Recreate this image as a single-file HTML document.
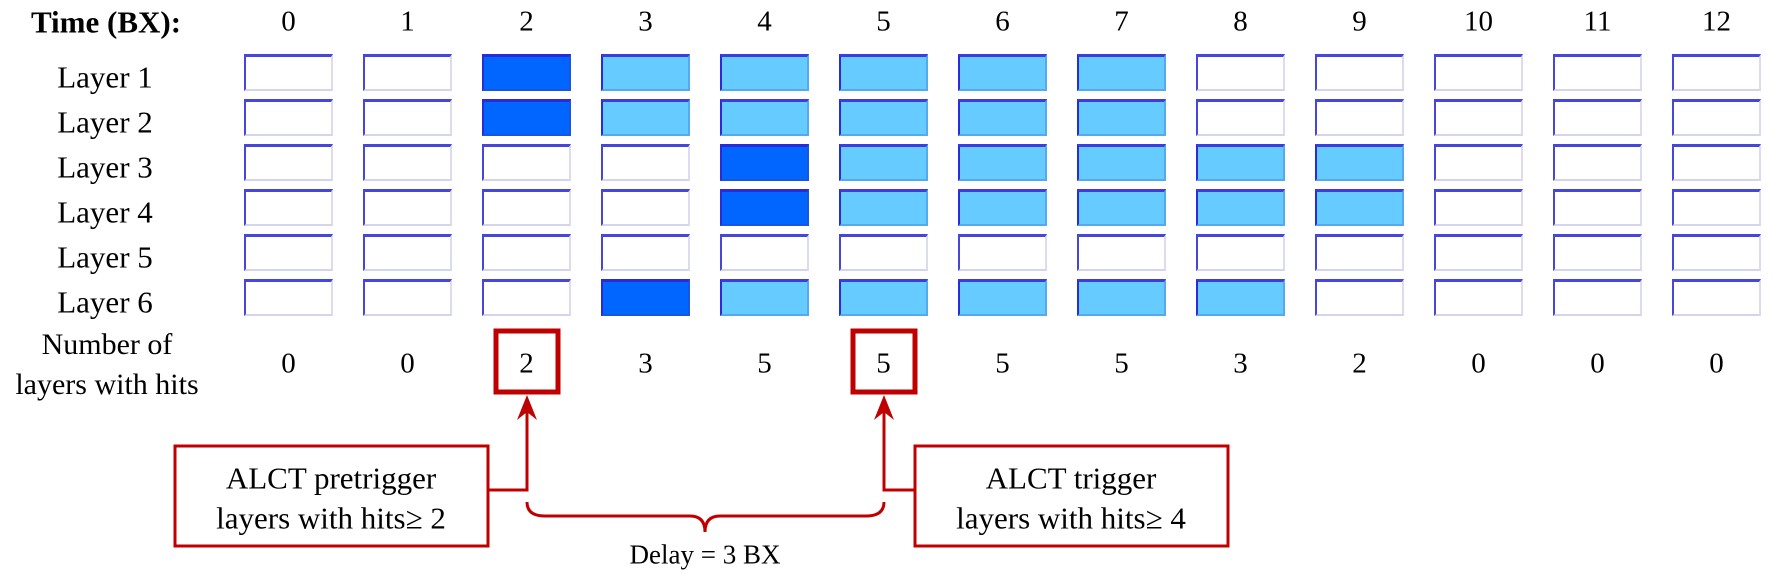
<!DOCTYPE html>
<html><head><meta charset="utf-8"><style>
body{margin:0;width:1773px;height:577px;background:#fff;position:relative;overflow:hidden;font-family:"Liberation Serif","Times New Roman","DejaVu Serif",serif;color:#000}
.t{position:absolute;white-space:nowrap;transform:translate(-50%,-50%);line-height:1;font-family:"Liberation Serif","Times New Roman","DejaVu Serif",serif}
.c{position:absolute;width:89px;height:37px;box-sizing:border-box;background:#fff;border-top:3px solid #4646dc;border-left:2px solid #4646dc;border-right:2px solid #dcdcf0;border-bottom:2px solid #d4d4ec}
.c.d{background:#0066ff;border-top-color:#2a2ad8;border-left-color:#2a2ad8;border-right-color:#1a55dd;border-bottom-color:#1a55dd}
.c.l{background:#66ccff;border-top-color:#3c3ce0;border-left-color:#2a2ae0;border-right-color:#55aaee;border-bottom-color:#55aaee}
</style></head><body>
<div class="t" style="left:106px;top:22px;font-size:31px;font-weight:bold">Time (BX):</div>
<div id="g"></div>
<div class="t" style="left:107px;top:345px;font-size:30px">Number of</div>
<div class="t" style="left:107px;top:385px;font-size:30px">layers with hits</div>
<svg style="position:absolute;left:0;top:0" width="1773" height="577">
<g fill="none" stroke="#c00000">
<rect x="496" y="331" width="62" height="61" stroke-width="5"/>
<rect x="853" y="331" width="62" height="61" stroke-width="5"/>
<rect x="175" y="446" width="313" height="100" stroke-width="3"/>
<rect x="915" y="446" width="313" height="100" stroke-width="3"/>
<polyline points="488,490 527,490 527,400" stroke-width="3"/>
<polyline points="915,490 884,490 884,400" stroke-width="3"/>
<path d="M527,502 Q527,516 545,516 L690,516 Q705,516 705,532 Q705,516 720,516 L866,516 Q884,516 884,502" stroke-width="3"/>
</g>
<polygon points="527,395 517,420 527,412 537,420" fill="#c00000"/>
<polygon points="884,395 874,420 884,412 894,420" fill="#c00000"/>
</svg>
<div class="t" style="left:331px;top:478px;font-size:31px">ALCT pretrigger</div>
<div class="t" style="left:331px;top:518px;font-size:31px">layers with hits≥ 2</div>
<div class="t" style="left:1071px;top:478px;font-size:31px">ALCT trigger</div>
<div class="t" style="left:1071px;top:518px;font-size:31px">layers with hits≥ 4</div>
<div class="t" style="left:705px;top:555px;font-size:27px">Delay = 3 BX</div>
<script>
var g=document.getElementById('g'),h='';
var pat=[[2,3,7],[2,3,7],[4,5,9],[4,5,9],null,[3,4,8]];
var cnt=[0,0,2,3,5,5,5,5,3,2,0,0,0];
for(var i=0;i<13;i++){var cx=244+119*i+44.5;
h+='<div class="t" style="left:'+cx+'px;top:22px;font-size:29px">'+i+'</div>';
h+='<div class="t" style="left:'+cx+'px;top:364px;font-size:29px">'+cnt[i]+'</div>';}
for(var r=0;r<6;r++){var y=54+45*r;
h+='<div class="t" style="left:105px;top:'+(y+23)+'px;font-size:31px">Layer '+(r+1)+'</div>';
for(var i=0;i<13;i++){var p=pat[r],k='';if(p){if(i==p[0])k=' d';else if(i>=p[1]&&i<=p[2])k=' l';}
h+='<div class="c'+k+'" style="left:'+(244+119*i)+'px;top:'+y+'px"></div>';}}
g.innerHTML=h;
</script>
</body></html>
